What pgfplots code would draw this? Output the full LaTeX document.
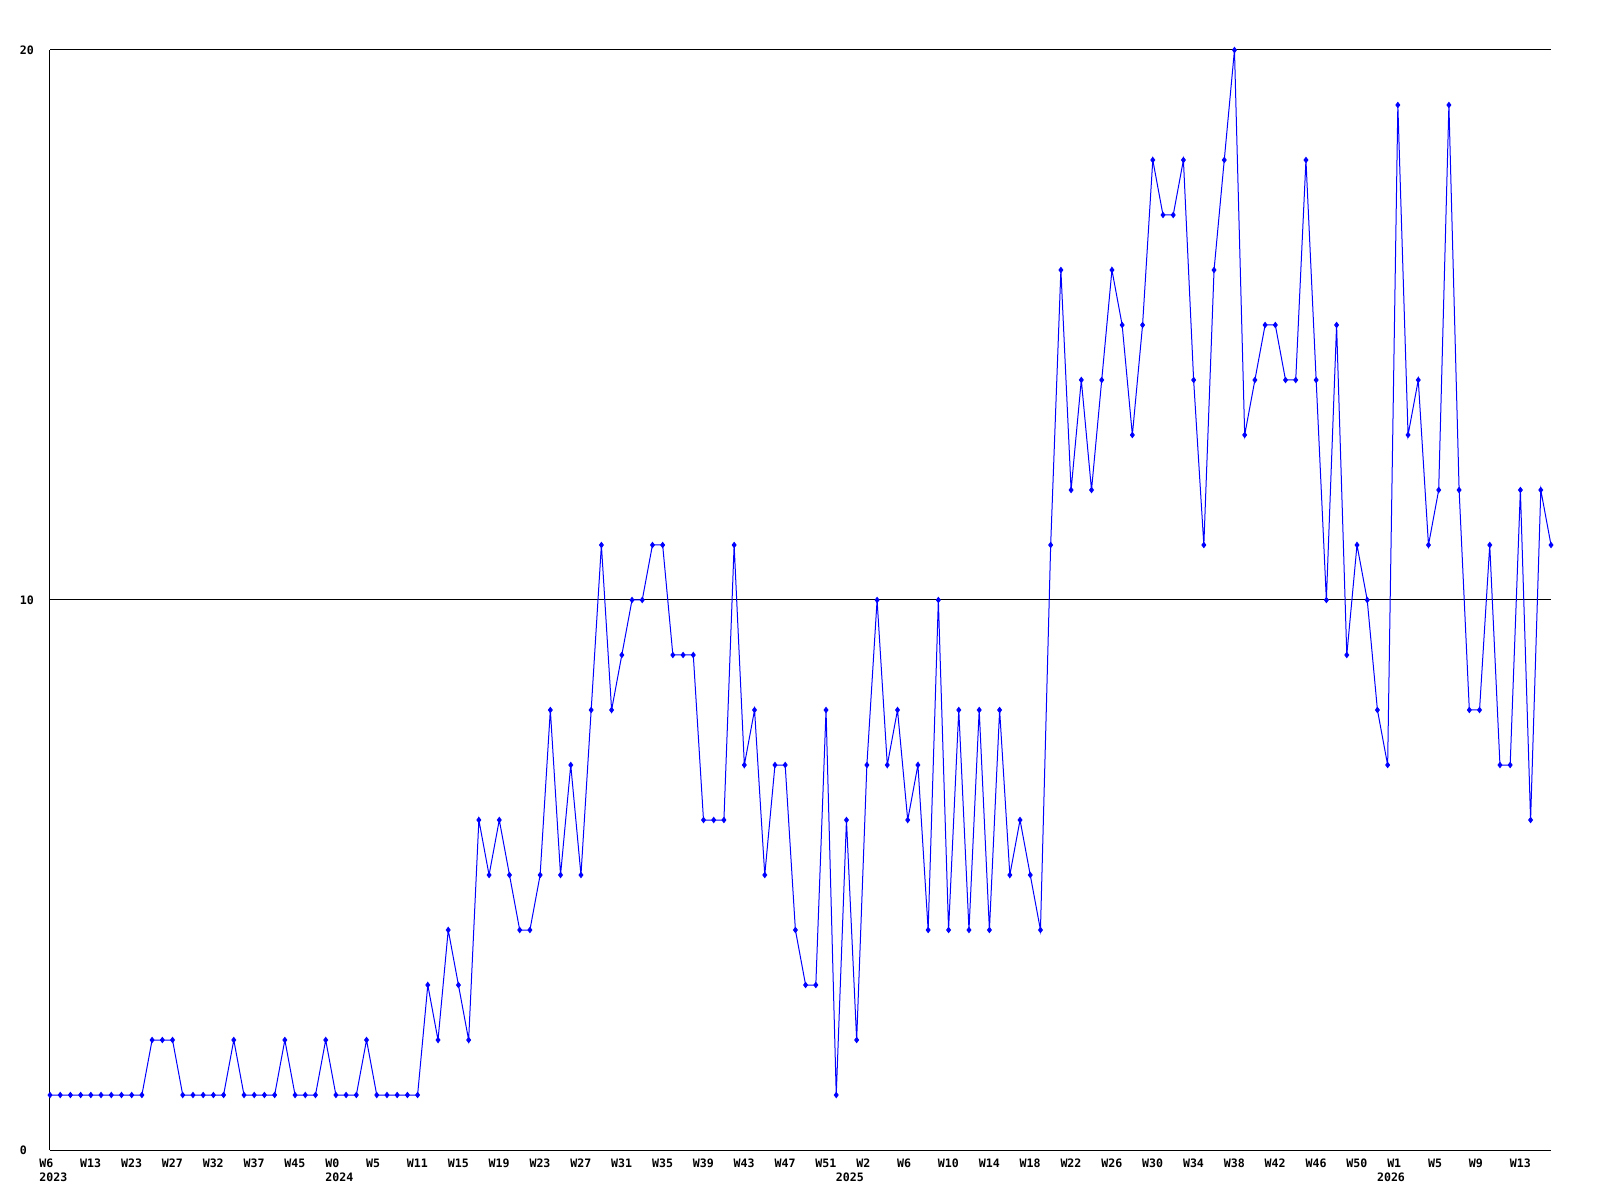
\documentclass[border=0pt]{standalone}
\usepackage{pgfplots}
\pgfplotsset{compat=1.18}
\usepackage{fontspec}
\setmonofont{DejaVu Sans Mono}
\newcommand{\lblfont}{\ttfamily\bfseries\fontsize{5.8}{7}\selectfont}
\begin{document}
\begin{tikzpicture}
\path[use as bounding box] (-25pt,-25pt) rectangle (775pt,575pt);
\begin{axis}[
  at={(0,0)}, anchor=south west,
  scale only axis, width=750.5pt, height=550pt,
  xmin=0, xmax=147, ymin=0, ymax=20,
  axis x line=bottom, axis y line=left,
  axis line style={-, black, line width=0.5pt},
  major tick length=0pt,
  ymajorgrids, grid style={black, line width=0.5pt},
  xtick={0,4,...,144},
  xticklabels={W6,W13,W23,W27,W32,W37,W45,W0,W5,W11,W15,W19,W23,W27,W31,W35,W39,W43,W47,W51,W2,W6,W10,W14,W18,W22,W26,W30,W34,W38,W42,W46,W50,W1,W5,W9,W13},
  xticklabel style={font=\lblfont, anchor=west, xshift=-5.5pt, yshift=-6.5pt, inner sep=0pt},
  ytick={0,10,20}, yticklabels={0,10,20},
  yticklabel style={font=\lblfont, anchor=west, xshift=-15.3pt, inner sep=0pt},
  clip=false,
]
\addplot[blue, line width=0.5pt, mark=diamond*, mark size=1.25pt, mark options={fill=blue, draw=blue}] coordinates {
(0,1)(1,1)(2,1)(3,1)(4,1)(5,1)(6,1)(7,1)(8,1)(9,1)
(10,2)(11,2)(12,2)(13,1)(14,1)(15,1)(16,1)(17,1)(18,2)(19,1)
(20,1)(21,1)(22,1)(23,2)(24,1)(25,1)(26,1)(27,2)(28,1)(29,1)
(30,1)(31,2)(32,1)(33,1)(34,1)(35,1)(36,1)(37,3)(38,2)(39,4)
(40,3)(41,2)(42,6)(43,5)(44,6)(45,5)(46,4)(47,4)(48,5)(49,8)
(50,5)(51,7)(52,5)(53,8)(54,11)(55,8)(56,9)(57,10)(58,10)(59,11)
(60,11)(61,9)(62,9)(63,9)(64,6)(65,6)(66,6)(67,11)(68,7)(69,8)
(70,5)(71,7)(72,7)(73,4)(74,3)(75,3)(76,8)(77,1)(78,6)(79,2)
(80,7)(81,10)(82,7)(83,8)(84,6)(85,7)(86,4)(87,10)(88,4)(89,8)
(90,4)(91,8)(92,4)(93,8)(94,5)(95,6)(96,5)(97,4)(98,11)(99,16)
(100,12)(101,14)(102,12)(103,14)(104,16)(105,15)(106,13)(107,15)(108,18)(109,17)
(110,17)(111,18)(112,14)(113,11)(114,16)(115,18)(116,20)(117,13)(118,14)(119,15)
(120,15)(121,14)(122,14)(123,18)(124,14)(125,10)(126,15)(127,9)(128,11)(129,10)
(130,8)(131,7)(132,19)(133,13)(134,14)(135,11)(136,12)(137,19)(138,12)(139,8)
(140,8)(141,11)(142,7)(143,7)(144,12)(145,6)(146,12)(147,11)
};
\node[font=\lblfont, inner sep=0pt, anchor=west] at (axis cs:0,0) [xshift=-5.5pt, yshift=-13.5pt] {2023};
\node[font=\lblfont, inner sep=0pt, anchor=west] at (axis cs:28,0) [xshift=-5.5pt, yshift=-13.5pt] {2024};
\node[font=\lblfont, inner sep=0pt, anchor=west] at (axis cs:78,0) [xshift=-5.5pt, yshift=-13.5pt] {2025};
\node[font=\lblfont, inner sep=0pt, anchor=west] at (axis cs:131,0) [xshift=-5.5pt, yshift=-13.5pt] {2026};
\end{axis}
\end{tikzpicture}
\end{document}
